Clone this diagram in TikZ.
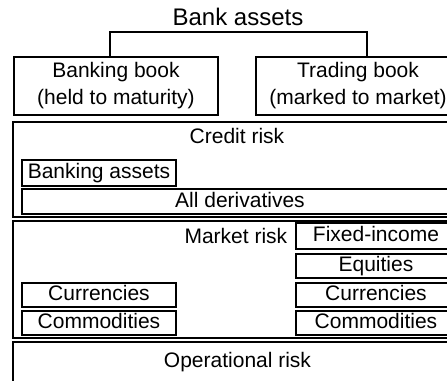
\documentclass[tikz,border=0pt]{standalone}
\usepackage{fontspec}
\setmainfont{Liberation Sans}
\usepackage{tikz}
\usetikzlibrary{positioning,calc}

\begin{document}
\begin{tikzpicture}[x=0.5pt, y=-0.5pt, line width=0.8pt,
    book/.style={draw, inner sep=0, minimum width=102pt, minimum height=29pt, align=center, font=\fontsize{10.5}{13.5}\selectfont},
    riskbox/.style={draw, inner sep=0, minimum width=224.5pt},
    item/.style={draw, inner sep=0, minimum height=12pt, text height=1.5ex, text depth=.45ex, font=\fontsize{10.5}{12}\selectfont},
    caption/.style={anchor=base, inner sep=0, font=\fontsize{10.5}{12}\selectfont}]
      % Frame
      \useasboundingbox (0,0) rectangle (447,381);
      \clip (0,0) rectangle (447,381);
      % Root and the two books
      \node[anchor=base, inner sep=0, font=\fontsize{12}{14}\selectfont] (title) at (238,25) {Bank assets};
      \node[book] (banking) at (116,86) {Banking book\\(held to maturity)};
      \node[book] (trading) at (358,86) {Trading book\\(marked to market)};
      \coordinate (forkL) at (110,32);
      \coordinate (forkR) at (367,32);
      \draw (forkL |- banking.north) -- (forkL) -- (forkR) -- (forkR |- trading.north);
      % Credit risk
      \node[riskbox, minimum height=47.5pt] (credit) at (237.5,169.5) {};
      \node[caption] (credittxt) at (237,143) {Credit risk};
      \node[item, minimum width=77pt, minimum height=13pt] (bankassets) at (99,173) {Banking assets};
      \node[item, minimum width=218pt, minimum height=12.5pt] (derivs) at (240,201.5) {All derivatives};
      % Market risk
      \node[riskbox, minimum height=58.5pt] (market) at (237.5,279.5) {};
      \node[caption, anchor=base east] (markettxt) at (288,243) {Market risk};
      \node[item, minimum width=80pt, minimum height=13pt] (fixedinc) at (376,236) {Fixed-income};
      \node[item, minimum width=80pt] (equities) at (376,266) {Equities};
      \node[item, minimum width=80pt] (currR) at (376,295) {Currencies};
      \node[item, minimum width=80pt] (commR) at (376,323) {Commodities};
      \node[item, minimum width=77pt] (currL) at (99,295) {Currencies};
      \node[item, minimum width=77pt] (commL) at (99,323) {Commodities};
      % Operational risk
      \node[riskbox, minimum height=20pt, font=\fontsize{10.5}{12}\selectfont] (oper) at (237.5,362) {Operational risk};
    \end{tikzpicture}
\end{document}
